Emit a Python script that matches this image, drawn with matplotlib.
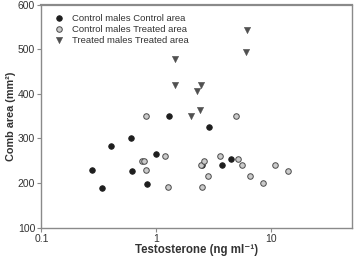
import matplotlib
matplotlib.use('Agg')
import matplotlib.pyplot as plt
from matplotlib.ticker import FixedLocator, NullLocator

plt.rcParams['font.family'] = ['Liberation Sans', 'DejaVu Sans']

# control males, control area
cc_t = [0.274, 0.337, 0.405, 0.608, 0.617, 0.838, 1.0, 1.285, 2.52, 2.88, 3.72, 4.48]
cc_comb = [230, 189, 284, 300, 228, 198, 265, 351, 240, 325, 240, 253]

# control males, treated area
ct_t = [0.82, 0.748, 0.783, 0.815, 1.20, 1.26, 2.49, 2.44, 2.61, 2.79,
        4.92, 3.6, 5.16, 5.59, 6.56, 8.41, 10.7, 13.9]
ct_comb = [351, 250, 250, 230, 260, 192, 190, 241, 250, 216,
           351, 260, 253, 240, 216, 200, 240, 226]

# treated males, treated area
tt_t = [1.45, 1.45, 2.01, 2.28, 2.41, 2.45, 6.06, 6.1]
tt_comb = [478, 420, 350, 406, 363, 420, 494, 544]

labels = ['Control males Control area', 'Control males Treated area',
          'Treated males Treated area']

fig = plt.figure(figsize=(3.54, 2.6), dpi=100)
ax = fig.add_axes([0.117, 0.125, 0.876, 0.856])

ax.scatter(cc_t, cc_comb, s=16, c='#1e1e1e', edgecolors='#1e1e1e', linewidths=0.6,
           label=labels[0], zorder=3)
ax.scatter(ct_t, ct_comb, s=16, c='#cacaca', edgecolors='#4a4a4a', linewidths=0.7,
           label=labels[1], zorder=3)
ax.scatter(tt_t, tt_comb, s=20, marker='v', c='#505050', edgecolors='#505050',
           linewidths=0.4, label=labels[2], zorder=4)

ax.set_xscale('log')
ax.set_xlim(0.1, 50)
ax.set_ylim(100, 600)
ax.xaxis.set_major_locator(FixedLocator([0.1, 1, 10]))
ax.xaxis.set_minor_locator(NullLocator())
ax.set_xticklabels(['0.1', '1', '10'])
ax.set_yticks([100, 200, 300, 400, 500, 600])

for s in ax.spines.values():
    s.set_color('#8a8a8a')
    s.set_linewidth(1.0)
ax.spines['top'].set_linewidth(1.6)
ax.tick_params(axis='both', which='major', labelsize=7.5, colors='#8a8a8a',
               labelcolor='#333333', length=3, width=0.8, direction='out', pad=1.5)
ax.tick_params(top=False, right=False)

ax.set_xlabel('Testosterone (ng ml\u207b\u00b9)', fontsize=8.3, fontweight='bold',
              color='#333333', labelpad=0)
ax.set_ylabel('Comb area (mm\u00b2)', fontsize=7.8, fontweight='bold',
              color='#333333', labelpad=1.5)

leg = ax.legend(loc='upper left', fontsize=6.8, frameon=False, handletextpad=0.8,
                labelspacing=0.2, borderaxespad=0.2, handlelength=1.2,
                bbox_to_anchor=(0.02, 0.985))
for t in leg.get_texts():
    t.set_color('#333333')

fig.savefig('out.png', dpi=100)
